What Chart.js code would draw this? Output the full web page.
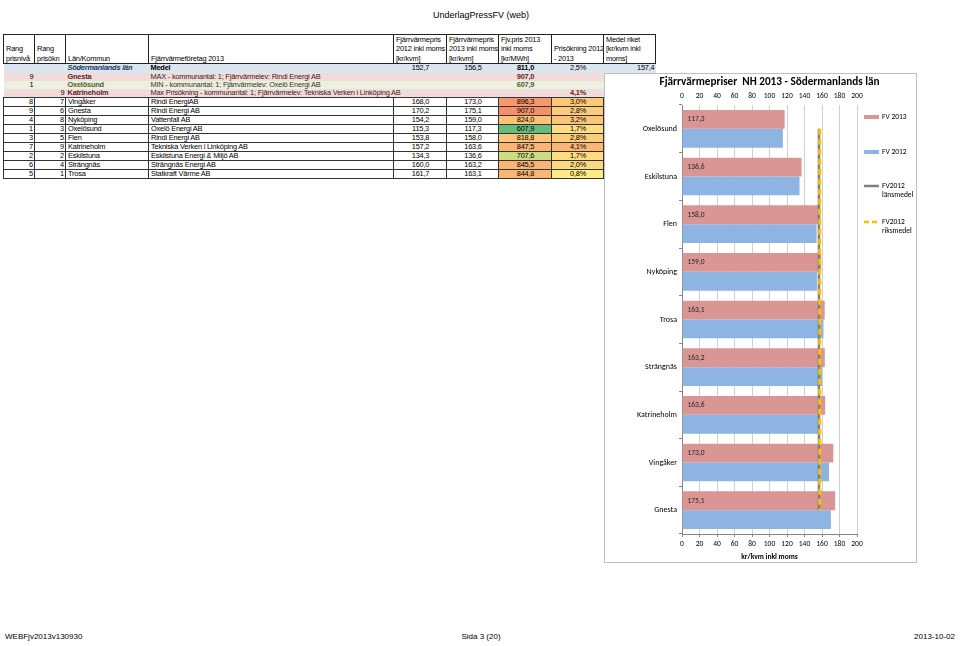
<!DOCTYPE html>
<html lang="sv">
<head>
<meta charset="utf-8">
<title>UnderlagPressFV (web)</title>
<script src="https://cdn.jsdelivr.net/npm/chart.js@4/dist/chart.umd.min.js"></script>
<style>
    body { margin: 0; width: 960px; height: 646px; position: relative; background: #fff; overflow: hidden;
           font-family: "Liberation Sans", Arial, sans-serif; color: #000; }
    .head { position: absolute; top: 10px; left: 0; width: 962px; text-align: center; font-size: 9px; }
    .foot { position: absolute; top: 632px; font-size: 8px; }
    table.tab { position: absolute; left: 3px; top: 34px; width: 652px; border-collapse: collapse; table-layout: fixed;
                font-size: 7.4px; letter-spacing: -0.2px; line-height: 8px; }
    .tab td { padding: 0 1px 0 2px; white-space: nowrap; overflow: hidden; }
    .tab tr.h td { border: 1px solid #222; vertical-align: bottom; line-height: 9.4px; height: 27px; }
    .tab tr.s td { height: 8.3px; overflow: visible; }
    .tab tr.d td { border: 1px solid #333; height: 7.8px; }
    .tab tr.d td.none, .tab tr.s td.none { border: none; background: none; }
    .r { text-align: right; }
    .c { text-align: center; }
    .lan { background: #dce6f1; }
    .max { background: #f2dcdb; }
    .min { background: #ebf1de; }
    .k { font-weight: bold; }
    #box { position: absolute; left: 604px; top: 73px; width: 313px; height: 490px; box-sizing: border-box;
           border: 1px solid #bfbfbf; background: #fff; }
</style>
</head>
<body>
<div class="head">UnderlagPressFV (web)</div>

<table class="tab">
    <colgroup>
        <col style="width:31px"><col style="width:31px"><col style="width:83px"><col style="width:245px">
        <col style="width:53px"><col style="width:52px"><col style="width:53px"><col style="width:52px"><col style="width:52px">
    </colgroup>
    <tbody id="tbody"></tbody>
</table>

<div id="box"><canvas id="chart" width="311" height="488"></canvas></div>

<div class="foot" style="left:5px">WEBFjv2013v130930</div>
<div class="foot" style="left:0;width:962px;text-align:center">Sida 3 (20)</div>
<div class="foot" style="right:5px">2013-10-02</div>

<script>
// tabell (ordning som i underlaget)
const rangNiva = [8, 9, 4, 1, 3, 7, 2, 6, 5];
const rangOkn = [7, 6, 8, 3, 5, 9, 2, 4, 1];
const kommun = ['Vingåker', 'Gnesta', 'Nyköping', 'Oxelösund', 'Flen', 'Katrineholm', 'Eskilstuna', 'Strängnäs', 'Trosa'];
const foretag = ['Rindi EnergiAB', 'Rindi Energi AB', 'Vattenfall AB', 'Oxelö Energi AB', 'Rindi Energi AB',
    'Tekniska Verken i Linköping AB', 'Eskilstuna Energi & Miljö AB', 'Strängnäs Energi AB', 'Statkraft Värme AB'];
const pris2012 = [168.0, 170.2, 154.2, 115.3, 153.8, 157.2, 134.3, 160.0, 161.7];
const pris2013 = [173.0, 175.1, 159.0, 117.3, 158.0, 163.6, 136.6, 163.2, 163.1];
const prisMWh = [896.3, 907.0, 824.0, 607.9, 818.8, 847.5, 707.6, 845.5, 844.8];
const prisokning = [3.0, 2.8, 3.2, 1.7, 2.8, 4.1, 1.7, 2.0, 0.8];
const lanNamn = 'Södermanlands län';
const lanMedel = [152.7, 156.5, 811.0, 2.5];   // 2012, 2013, kr/MWh, ökning %
const medelRiket = 157.4;

// diagram
const kategorier = ['Oxelösund', 'Eskilstuna', 'Flen', 'Nyköping', 'Trosa', 'Strängnäs', 'Katrineholm', 'Vingåker', 'Gnesta'];
const fv2013 = [117.3, 136.6, 158.0, 159.0, 163.1, 163.2, 163.6, 173.0, 175.1];
const fv2012 = [115.3, 134.3, 153.8, 154.2, 161.7, 160.0, 157.2, 168.0, 170.2];
const lansmedel = 156.5;
const riksmedel = 157.4;
const xMin = 0, xMax = 200, xSteg = 20;

const fmt = v => v.toFixed(1).replace('.', ',');
const pct = v => fmt(v) + '%';

// färgskalor ungefär som Excels villkorsstyrning
const mix = (a, b, t) => `rgb(${a.map((c, i) => Math.round(c + (b[i] - c) * t)).join(',')})`;
const GRON = [99, 190, 123], GUL = [255, 235, 132], ROD = [246, 144, 106], ORANGE = [250, 182, 117];
function skala3(v, arr) {
    const min = Math.min(...arr), max = Math.max(...arr), mid = (min + max) / 2;
    return v < mid ? mix(GRON, GUL, (v - min) / (mid - min)) : mix(GUL, ROD, (v - mid) / (max - mid));
}
function skala2(v, arr) {
    const min = Math.min(...arr), max = Math.max(...arr);
    return mix(GUL, ORANGE, (v - min) / (max - min));
}

function buildTable() {
    const iMax = prisMWh.indexOf(Math.max(...prisMWh));
    const iMin = prisMWh.indexOf(Math.min(...prisMWh));
    const iOkn = prisokning.indexOf(Math.max(...prisokning));

    let html = `
        <tr class="h">
            <td>Rang<br>prisnivå</td><td>Rang<br>prisökn</td><td>Län/Kommun</td><td>Fjärrvärmeföretag 2013</td>
            <td>Fjärrvärmepris<br>2012 inkl moms<br>[kr/kvm]</td><td>Fjärrvärmepris<br>2013 inkl moms<br>[kr/kvm]</td>
            <td>Fjv.pris 2013<br>inkl moms<br>[kr/MWh]</td><td>Prisökning 2012<br>- 2013</td>
            <td>Medel riket<br>[kr/kvm inkl<br>moms]</td>
        </tr>
        <tr class="s" style="color:#000">
            <td class="lan"></td><td class="lan"></td>
            <td class="lan k" style="color:#17375e"><i>${lanNamn}</i></td>
            <td class="lan k">Medel</td>
            <td class="lan c">${fmt(lanMedel[0])}</td><td class="lan c">${fmt(lanMedel[1])}</td>
            <td class="lan c k">${fmt(lanMedel[2])}</td><td class="lan c">${pct(lanMedel[3])}</td>
            <td class="lan r">${fmt(medelRiket)}</td>
        </tr>
        <tr class="s">
            <td class="max r">${rangNiva[iMax]}</td><td class="max"></td>
            <td class="max k" style="color:#632523">${kommun[iMax]}</td>
            <td class="max" colspan="3" style="color:#3a1a18">MAX - kommunantal: 1; Fjärrvärmelev: ${foretag[iMax]}</td>
            <td class="max c k" style="color:#632523">${fmt(prisMWh[iMax])}</td><td class="max"></td><td class="none"></td>
        </tr>
        <tr class="s">
            <td class="min r">${rangNiva[iMin]}</td><td class="min"></td>
            <td class="min k" style="color:#4f6228">${kommun[iMin]}</td>
            <td class="min" colspan="3" style="color:#2e3a17">MIN - kommunantal: 1; Fjärrvärmelev: ${foretag[iMin]}</td>
            <td class="min c k" style="color:#4f6228">${fmt(prisMWh[iMin])}</td><td class="min"></td><td class="none"></td>
        </tr>
        <tr class="s">
            <td class="max"></td><td class="max r">${rangOkn[iOkn]}</td>
            <td class="max k" style="color:#632523">${kommun[iOkn]}</td>
            <td class="max" colspan="4" style="color:#3a1a18">Max Prisökning - kommunantal: 1; Fjärrvärmelev: ${foretag[iOkn]}</td>
            <td class="max c k" style="color:#632523">${pct(prisokning[iOkn])}</td><td class="none"></td>
        </tr>`;

    html += kommun.map((k, i) => `
        <tr class="d">
            <td class="r">${rangNiva[i]}</td><td class="r">${rangOkn[i]}</td>
            <td>${k}</td><td>${foretag[i]}</td>
            <td class="c">${fmt(pris2012[i])}</td><td class="c">${fmt(pris2013[i])}</td>
            <td class="c" style="background:${skala3(prisMWh[i], prisMWh)}">${fmt(prisMWh[i])}</td>
            <td class="c" style="background:${skala2(prisokning[i], prisokning)}">${pct(prisokning[i])}</td>
            <td class="none"></td>
        </tr>`).join('');

    document.getElementById('tbody').innerHTML = html;
}
buildTable();

const FONT = 'Carlito, Lato, "Open Sans", sans-serif';
const RUBRIK = 'Fjärrvärmepriser  NH 2013 - Södermanlands län';

// rubrik centrerad över ritytan
const rubrikPlugin = {
    id: 'rubrik',
    afterDraw(chart) {
        const { ctx, chartArea } = chart;
        ctx.save();
        ctx.font = `bold 11.2px ${FONT}`;
        ctx.fillStyle = '#000';
        ctx.textAlign = 'center';
        ctx.textBaseline = 'middle';
        ctx.fillText(RUBRIK, (chartArea.left + chartArea.right) / 2, 8);
        ctx.restore();
    }
};

// värden i de röda staplarna
const etikettPlugin = {
    id: 'etiketter',
    afterDatasetsDraw(chart) {
        const { ctx } = chart;
        const meta = chart.getDatasetMeta(0);
        ctx.save();
        ctx.font = `7.5px ${FONT}`;
        ctx.fillStyle = '#262626';
        ctx.textBaseline = 'middle';
        meta.data.forEach((bar, i) => {
            ctx.fillText(fmt(chart.data.datasets[0].data[i]), bar.base + 5, bar.y);
        });
        ctx.restore();
    }
};

// förklaring till höger
const legendPlugin = {
    id: 'forklaring',
    afterDraw(chart) {
        const { ctx, chartArea } = chart;
        const x0 = chartArea.right + 7;
        const rows = [12, 47, 81, 117];
        ctx.save();
        ctx.font = `7.5px ${FONT}`;
        ctx.textBaseline = 'middle';
        chart.data.datasets.forEach((ds, i) => {
            const y = chartArea.top + rows[i];
            if (ds.type === 'bar') {
                ctx.fillStyle = ds.backgroundColor;
                ctx.fillRect(x0, y - 2, 15, 4);
            } else {
                ctx.strokeStyle = ds.borderColor;
                ctx.lineWidth = 2.5;
                ctx.setLineDash(ds.borderDash ? [5, 3] : []);
                ctx.beginPath();
                ctx.moveTo(x0, y);
                ctx.lineTo(x0 + 15, y);
                ctx.stroke();
                ctx.setLineDash([]);
            }
            ctx.fillStyle = '#000';
            ds.label.split(' ').length > 1 && ds.type !== 'bar'
                ? ds.label.split(' ').forEach((t, j) => ctx.fillText(t, x0 + 18, y + j * 9))
                : ctx.fillText(ds.label, x0 + 18, y);
        });
        ctx.restore();
    }
};

new Chart(document.getElementById('chart'), {
    type: 'bar',
    data: {
        labels: kategorier,
        datasets: [
            { type: 'bar', label: 'FV 2013', data: fv2013, backgroundColor: '#d99694',
              categoryPercentage: 0.79, barPercentage: 1, order: 0 },
            { type: 'bar', label: 'FV 2012', data: fv2012, backgroundColor: '#8eb4e3',
              categoryPercentage: 0.79, barPercentage: 1, order: 0 },
            { type: 'line', label: 'FV2012 länsmedel', indexAxis: 'y', data: kategorier.map(() => lansmedel),
              borderColor: '#7f7f7f', borderWidth: 2.5, pointRadius: 0, fill: false, order: -1 },
            { type: 'line', label: 'FV2012 riksmedel', indexAxis: 'y', data: kategorier.map(() => riksmedel),
              borderColor: '#ffc000', borderWidth: 3, borderDash: [6, 4], pointRadius: 0, fill: false, order: -2 }
        ]
    },
    options: {
        indexAxis: 'y',
        responsive: false,
        animation: false,
        layout: { padding: { top: 17, right: 59, left: 0, bottom: 0 } },
        plugins: { legend: { display: false }, tooltip: { enabled: false }, title: { display: false } },
        scales: {
            x: {
                type: 'linear', position: 'bottom', min: xMin, max: xMax,
                ticks: { stepSize: xSteg, padding: 3, color: '#000', font: { family: FONT, size: 7.5 } },
                grid: { color: '#d0d0d0', tickColor: '#868686', tickLength: 3 },
                border: { color: '#868686' },
                title: { display: true, text: 'kr/kvm inkl moms', padding: 0, color: '#000',
                         font: { family: FONT, size: 7.5, weight: 'bold' } },
                afterFit: s => { s.height = 28; }
            },
            xTop: {
                type: 'linear', position: 'top', min: xMin, max: xMax,
                ticks: { stepSize: xSteg, padding: 4, color: '#000', font: { family: FONT, size: 7.5 } },
                grid: { display: false, drawTicks: false },
                border: { display: false },
                afterFit: s => { s.height = 14; }
            },
            y: {
                type: 'category', offset: true,
                ticks: { padding: 2, color: '#000', font: { family: FONT, size: 8 } },
                grid: { offset: true, drawOnChartArea: false, tickLength: 3, color: '#868686' },
                border: { color: '#868686' },
                afterFit: s => { s.width = 77; }
            }
        }
    },
    plugins: [rubrikPlugin, etikettPlugin, legendPlugin]
});
</script>
</body>
</html>
